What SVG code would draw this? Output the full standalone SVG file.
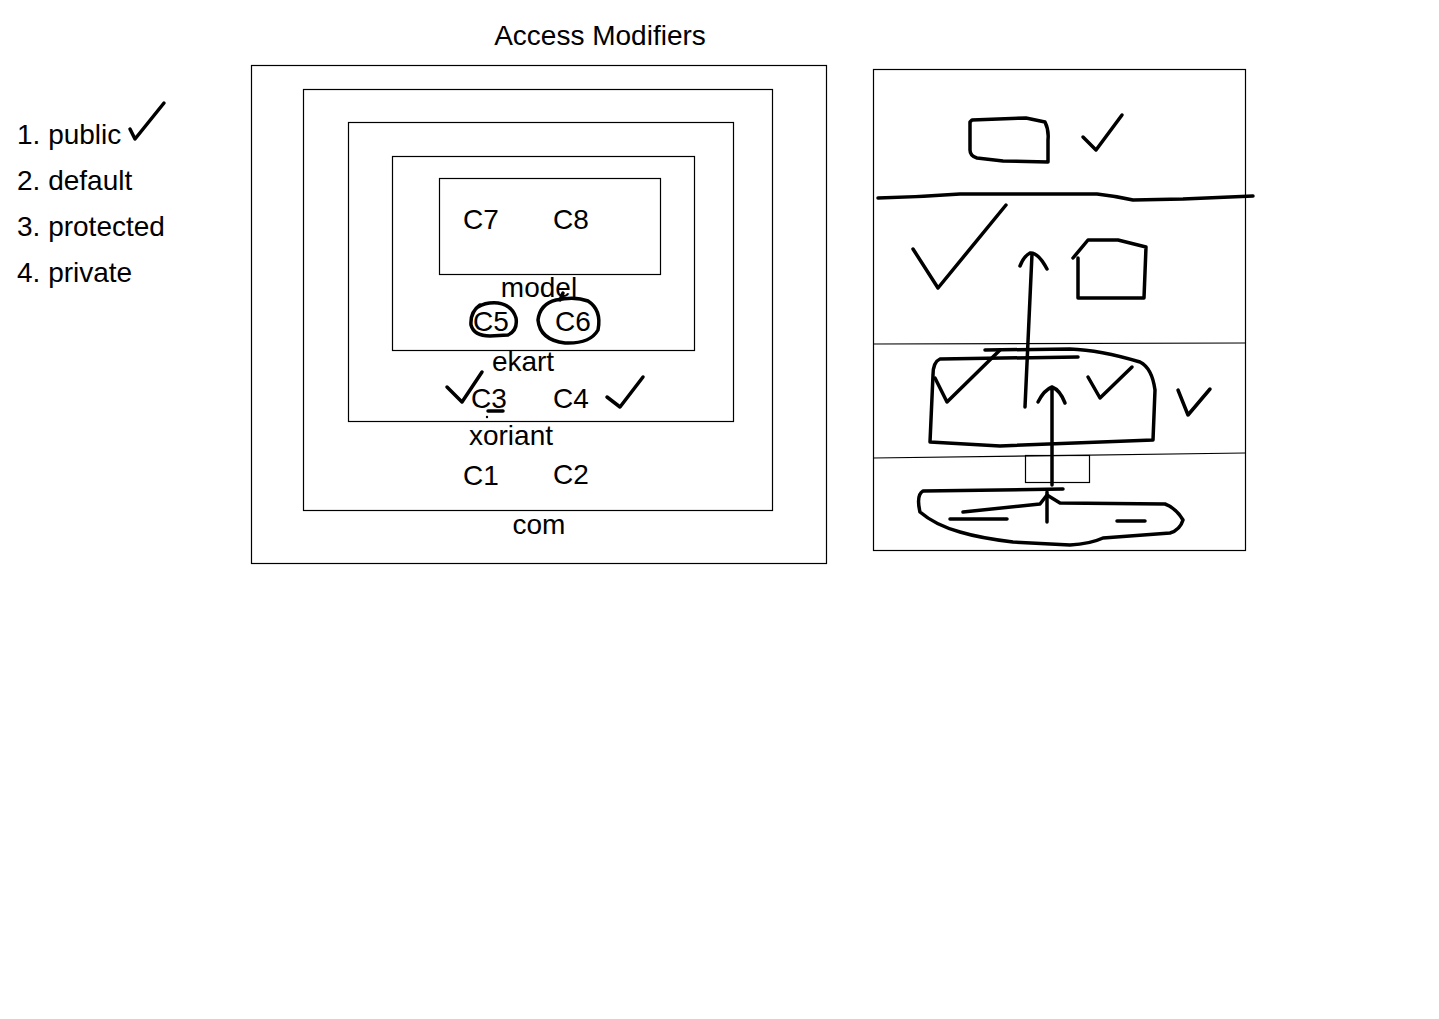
<svg xmlns="http://www.w3.org/2000/svg" width="1439" height="1019" viewBox="0 0 1439 1019">
<style>
text{font-family:"Liberation Sans",Arial,sans-serif;font-size:28px;fill:#000}
.c{text-anchor:middle}
.box{fill:none;stroke:#000;stroke-width:1.2}
.ink{fill:none;stroke:#000;stroke-width:3.5;stroke-linecap:round;stroke-linejoin:round}
</style>
<rect width="1439" height="1019" fill="#fff"/>
<g id="title"><text class="c" x="600" y="45">Access Modifiers</text></g>
<g id="list">
<text x="17" y="144">1. public</text>
<text x="17" y="190">2. default</text>
<text x="17" y="236">3. protected</text>
<text x="17" y="282">4. private</text>
<path class="ink" d="M130,129 L135,139 L164,103"/>
</g>
<g id="pkg-com"><rect class="box" x="251.5" y="65.5" width="575" height="498"/><text class="c" x="539" y="534">com</text></g>
<g id="pkg-xoriant"><rect class="box" x="303.5" y="89.5" width="469" height="421"/><text class="c" x="511" y="445">xoriant</text><text class="c" x="481" y="485">C1</text><text class="c" x="571" y="484">C2</text></g>
<g id="pkg-ekart"><rect class="box" x="348.5" y="122.5" width="385" height="299"/><text class="c" x="523" y="371">ekart</text><text class="c" x="489" y="408">C3</text><text class="c" x="571" y="408">C4</text></g>
<g id="pkg-model"><rect class="box" x="392.5" y="156.5" width="302" height="194"/><text class="c" x="539" y="297">model</text><text class="c" x="491" y="331">C5</text><text class="c" x="573" y="331">C6</text></g>
<g id="pkg-inner"><rect class="box" x="439.5" y="178.5" width="221" height="96"/><text class="c" x="481" y="229">C7</text><text class="c" x="571" y="229">C8</text></g>
<g id="marks-left">
<path class="ink" d="M480,305 Q470,312 471,325 Q474,336 490,336 L508,335 Q518,330 516,318 Q512,305 498,303 Q486,302 478,307"/>
<path class="ink" d="M556,300 Q540,304 538,320 Q540,340 565,343 Q590,344 598,330 Q602,310 588,301 Q575,296 556,300 M560,300 L563,293"/>
<path class="ink" d="M447,387 L462,402 L482,372"/>
<path class="ink" d="M488,411 L503,411"/>
<circle cx="487" cy="417" r="1.2" fill="#000"/>
<path class="ink" d="M607,397 L620,407 L643,377"/>
</g>
<g id="right-panel">
<rect class="box" x="873.5" y="69.5" width="372" height="481"/>
<path class="box" d="M873,344 L1245,343"/>
<path class="box" d="M873,458 L1245,453"/>
<rect class="box" x="1025.5" y="455.5" width="64" height="27"/>
<path class="ink" d="M878,198 Q920,197 960,194 L1097,194 Q1115,196 1133,200 L1183,199 L1253,196"/>
<path class="ink" d="M972,120 L1026,118 L1045,122 Q1049,130 1048,140 L1048,162 L1003,161 L977,158 Q970,156 970,150 L970,122 Z"/>
<path class="ink" d="M1083,137 L1096,150 L1122,115"/>
<path class="ink" d="M913,249 L938,288 L1006,205"/>
<path class="ink" d="M1025,407 L1032,254 M1020,266 Q1024,256 1030,253 Q1038,252 1047,269"/>
<path class="ink" d="M1073,258 L1088,240 L1118,240 L1146,247 L1144,298 L1078,298 L1078,258"/>
<path class="ink" d="M1078,357 L940,359 Q933,362 933,375 L930,442 L1000,446 L1153,440 L1155,390 Q1152,368 1140,362 Q1100,350 1070,349 L985,350"/>
<path class="ink" d="M935,378 L947,402 L1000,350"/>
<path class="ink" d="M1052,485 L1052,387 M1038,402 Q1044,390 1052,387 Q1060,390 1065,403"/>
<path class="ink" d="M1088,377 L1100,398 L1132,367"/>
<path class="ink" d="M1178,390 L1188,415 L1210,389"/>
<path class="ink" d="M923,491 L1063,489 M963,512 L1040,504 L1047,495 L1060,503 L1165,504 Q1176,508 1183,520 Q1180,530 1170,533 L1103,538 Q1090,544 1070,545 L1013,542 Q980,538 960,532 Q935,525 920,512 Q916,495 923,491"/>
<path class="ink" d="M1047,522 L1047,492"/>
<path class="ink" d="M950,519 L1007,519 M1117,521 L1145,521"/>
</g>
</svg>
